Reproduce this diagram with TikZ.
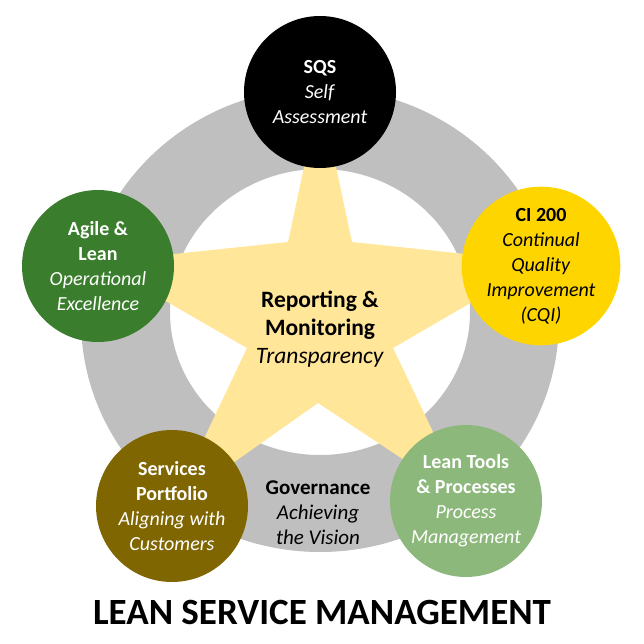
\documentclass[tikz,border=0pt]{standalone}
\usepackage{fontspec}
\setmainfont{Carlito}
\usepackage{tikz}

\definecolor{ringgray}{HTML}{BFBFBF}
\definecolor{stary}{HTML}{FFE699}
\definecolor{agileg}{HTML}{3A7D2C}
\definecolor{ciy}{HTML}{FFD500}
\definecolor{olive}{HTML}{7F6600}
\definecolor{lightg}{HTML}{8DB87B}

\begin{document}
\begin{tikzpicture}[x=1pt,y=-1pt,every node/.style={align=center},disc/.style={circle,minimum size=152pt,inner sep=0pt,font=\fontsize{20}{25}\selectfont},level/.style={font=\fontsize{21}{25}\selectfont}]
    \useasboundingbox (0,0) rectangle (644,644);
    \fill[ringgray,even odd rule] (320,320) ellipse [x radius=239pt,y radius=232pt]
      (320,312) ellipse [x radius=150pt,y radius=143pt];
    \fill[stary] (320,92) -- (352,242) -- (541,262) -- (393,348) -- (466,501) -- (318,403)
      -- (172,506) -- (247,348) -- (98,262) -- (288,242) -- cycle;
    \node[disc,fill=black,text=white](sqs) at (320,92){\textbf{SQS}\\\textit{Self}\\\textit{Assessment}};
    \node[disc,fill=agileg,text=white](agile) at (98,266){\textbf{Agile \&}\\\textbf{Lean}\\\textit{Operational}\\\textit{Excellence}};
    \node[disc,fill=ciy,text=black](ci) at (541,266){\textbf{CI 200}\\\textit{Continual}\\\textit{Quality}\\\textit{Improvement}\\\textit{(CQI)}};
    \node[disc,fill=olive,text=white](port) at (172,506){\textbf{Services}\\\textbf{Portfolio}\\\textit{Aligning with}\\\textit{Customers}};
    \node[disc,fill=lightg,text=white](tools) at (466,501){\textbf{Lean Tools}\\\textbf{\& Processes}\\\textit{Process}\\\textit{Management}};
    \node[level](gov) at (318,513){\textbf{Governance}\\\textit{Achieving}\\\textit{the Vision}};
    \node[font=\fontsize{23.5}{28}\selectfont](rep) at (320,329){\textbf{Reporting \&}\\\textbf{Monitoring}\\\textit{Transparency}};
    \node[font=\fontsize{37}{44}\selectfont\bfseries](title) at (322,612){LEAN SERVICE MANAGEMENT};
  \end{tikzpicture}
\end{document}
